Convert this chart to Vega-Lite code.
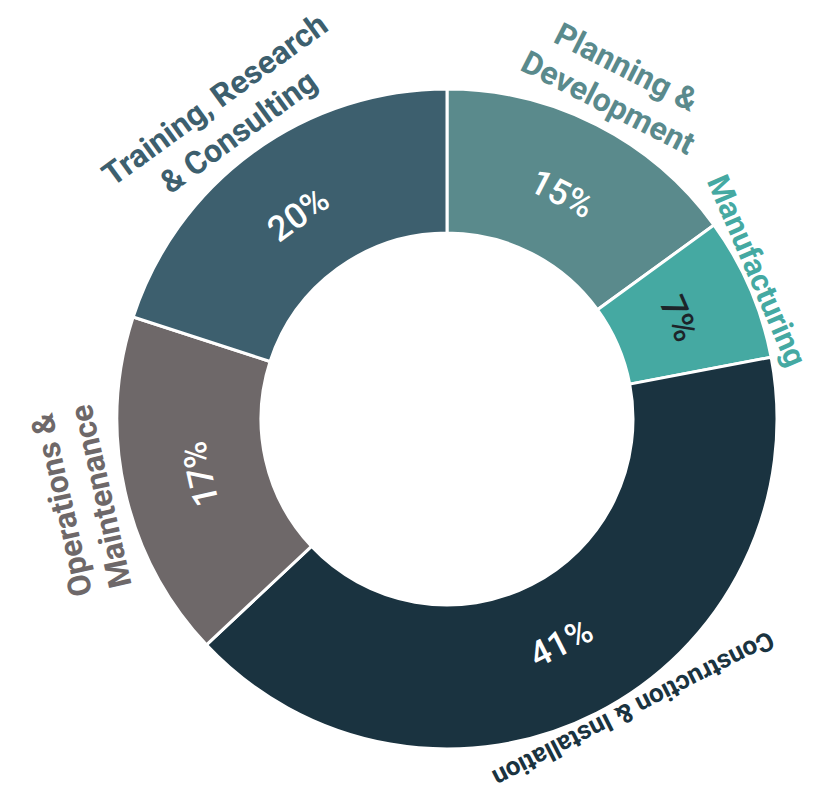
{
  "$schema": "https://vega.github.io/schema/vega-lite/v6.json",
  "width": 660,
  "height": 660,
  "autosize": "none",
  "padding": {"left": 117, "top": 89, "right": 47, "bottom": 56},
  "background": "white",
  "config": {"view": {"stroke": null}},
  "data": {
    "values": [
      {"sector": "Planning & Development", "label": "Planning &\nDevelopment", "value": 15},
      {"sector": "Manufacturing", "label": "Manufacturing", "value": 7},
      {"sector": "Construction & Installation", "label": "Construction & Installation", "value": 41},
      {"sector": "Operations & Maintenance", "label": "Operations &\nMaintenance", "value": 17},
      {"sector": "Training, Research & Consulting", "label": "Training, Research\n& Consulting", "value": 20}
    ]
  },
  "transform": [
    {"window": [{"op": "row_number", "as": "idx"}, {"op": "sum", "field": "value", "as": "cum"}], "frame": [null, 0]},
    {"joinaggregate": [{"op": "sum", "field": "value", "as": "total"}]},
    {"calculate": "(datum.cum - datum.value / 2) / datum.total * 360", "as": "mid"},
    {"calculate": "datum.mid < 90 ? datum.mid : (datum.mid < 180 ? datum.mid - 180 : datum.mid - 360)", "as": "pctAngle"},
    {"calculate": "datum.mid > 180 ? datum.mid - 360 : datum.mid", "as": "labelAngle"},
    {"calculate": "indexof(datum.label, '\\n') >= 0", "as": "twoLines"},
    {"calculate": "datum.value + '%'", "as": "pct"}
  ],
  "encoding": {
    "theta": {"field": "value", "type": "quantitative", "stack": true},
    "order": {"field": "idx", "type": "quantitative"},
    "color": {
      "field": "sector",
      "type": "nominal",
      "scale": {
        "domain": ["Planning & Development", "Manufacturing", "Construction & Installation", "Operations & Maintenance", "Training, Research & Consulting"],
        "range": ["#5a8a8c", "#45a9a2", "#1a3340", "#6e6869", "#3d5f6e"]
      },
      "legend": null
    }
  },
  "layer": [
    {
      "mark": {"type": "arc", "outerRadius": 330, "innerRadius": 186, "stroke": "white", "strokeWidth": 3}
    },
    {
      "mark": {"type": "text", "radius": 252, "fontSize": 35, "fontWeight": 500, "font": "Roboto", "align": "center", "baseline": "middle"},
      "encoding": {
        "text": {"field": "pct", "type": "nominal"},
        "angle": {"field": "pctAngle", "type": "quantitative", "scale": null},
        "color": {"condition": {"test": "datum.sector === 'Manufacturing'", "value": "#1d2429"}, "value": "white"}
      }
    },
    {
      "mark": {"type": "text", "radius": 377, "fontSize": 32, "fontWeight": "bold", "font": "Roboto", "lineBreak": "\n", "lineHeight": 40, "align": "center", "baseline": "bottom"},
      "encoding": {
        "text": {"field": "label", "type": "nominal", "condition": {"test": "!datum.twoLines", "value": ""}},
        "angle": {"field": "labelAngle", "type": "quantitative", "scale": null}
      }
    },
    {
      "mark": {"type": "text", "radius": 326, "thetaOffset": -0.04, "fontSize": 31, "fontWeight": "bold", "font": "Roboto", "align": "center", "baseline": "bottom"},
      "encoding": {
        "text": {"field": "label", "type": "nominal", "condition": {"test": "datum.sector !== 'Manufacturing'", "value": ""}},
        "angle": {"field": "labelAngle", "type": "quantitative", "scale": null}
      }
    },
    {
      "mark": {"type": "text", "radius": 344, "thetaOffset": -0.1, "fontSize": 26, "fontWeight": "bold", "font": "Roboto", "align": "center", "baseline": "middle"},
      "encoding": {
        "text": {"field": "label", "type": "nominal", "condition": {"test": "datum.sector !== 'Construction & Installation'", "value": ""}},
        "angle": {"field": "labelAngle", "type": "quantitative", "scale": null}
      }
    }
  ]
}
